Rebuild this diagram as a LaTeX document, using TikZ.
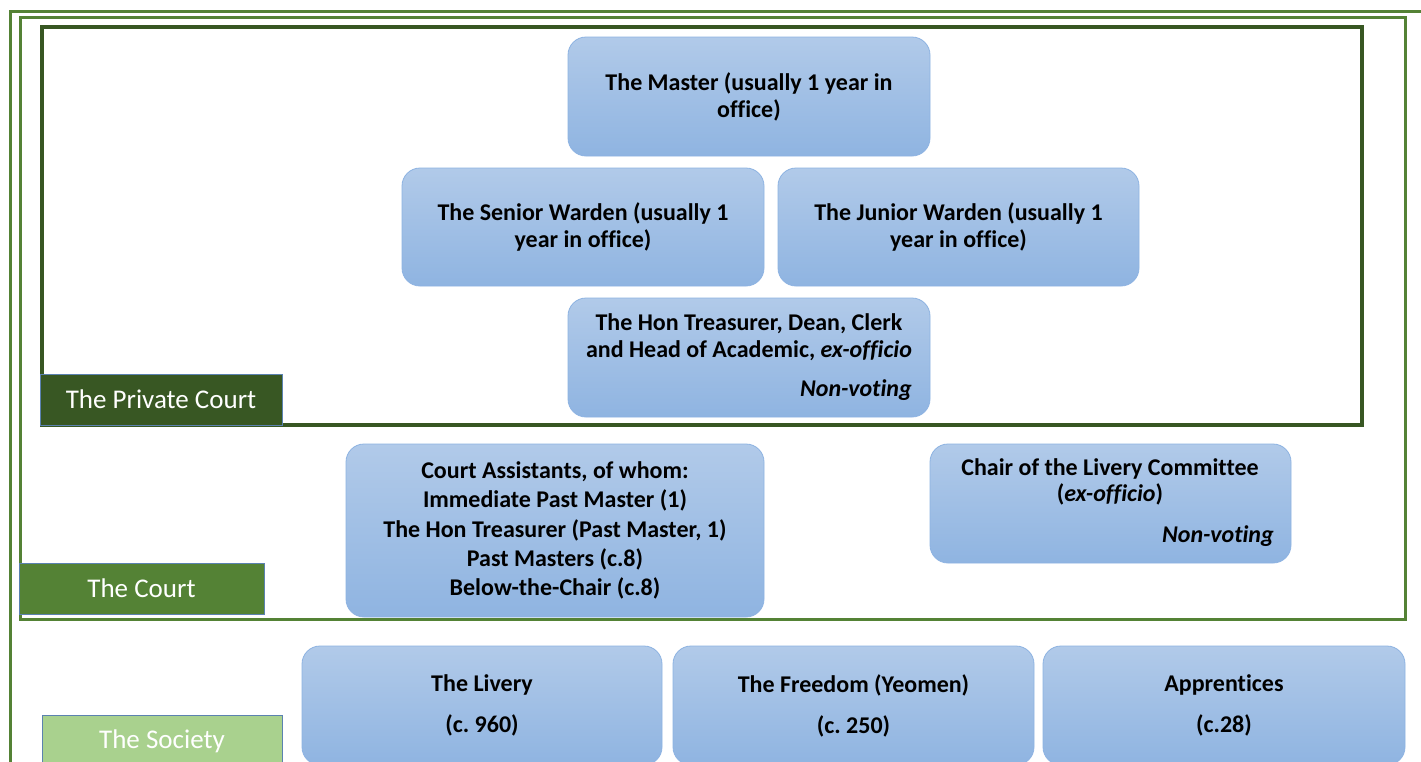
\documentclass[tikz,border=0pt]{standalone}
\usepackage{fontspec}
\setmainfont{Carlito}[Ligatures=NoCommon]
\frenchspacing
\definecolor{privgreen}{HTML}{385723}
\definecolor{courtgreen}{HTML}{548235}
\definecolor{socgreen}{HTML}{A9D18E}
\definecolor{boxtop}{HTML}{B1CAE9}
\definecolor{boxbot}{HTML}{8FB4E1}
\definecolor{boxline}{HTML}{8DB3E2}
\definecolor{labline}{HTML}{5B82B0}
\tikzset{
  bluebox/.style={draw=boxline, line width=0.8pt, rounded corners=18pt,
    top color=boxtop, bottom color=boxbot, inner sep=0pt, align=center,
    font=\bfseries\fontsize{24}{27}\selectfont},
  boxtext/.style={inner sep=0pt, align=center, font=\bfseries\fontsize{24}{27}\selectfont},
  nvtext/.style={inner sep=0pt, anchor=east, font=\bfseries\itshape\fontsize{24}{27}\selectfont},
  labelbox/.style={draw=labline, line width=0.6pt, text=white, inner sep=0pt,
    font=\fontsize{27}{30}\selectfont},
  frame/.style={line width=3pt}
}
\begin{document}
\begin{tikzpicture}[x=1pt,y=-1pt]
\useasboundingbox (0,0) rectangle (1421,761);
\clip (0,0) rectangle (1421,761);
\fill[white] (0,0) rectangle (1421,761);
% frames
\draw[frame, draw=courtgreen] (10,770) -- (10,11) -- (1430,11);
\draw[frame, draw=courtgreen] (20,17) rectangle (1405,619);
\draw[frame, draw=privgreen, line width=3.5pt] (42,27) rectangle (1362,425);
% level labels
\node[labelbox, fill=privgreen, minimum width=242pt, minimum height=51pt] (lpriv) at (161,399.5) {The Private Court};
\node[labelbox, fill=courtgreen, minimum width=245pt, minimum height=51pt] (lcourt) at (141.5,588.5) {The Court};
\node[labelbox, fill=socgreen, minimum width=240pt, minimum height=51pt] (lsoc) at (162,741) {The Society};
% private court boxes
\node[bluebox, minimum width=362pt, minimum height=119pt] (master) at (749,96.5)
  {The Master (usually 1 year in\\office)};
\node[bluebox, minimum width=362pt, minimum height=118pt] (senior) at (583,227)
  {The Senior Warden (usually 1\\year in office)};
\node[bluebox, minimum width=361pt, minimum height=118pt] (junior) at (958.5,227)
  {The Junior Warden (usually 1\\year in office)};
\node[bluebox, minimum width=362pt, minimum height=119pt] (treas) at (749,357.5) {};
\node[boxtext] (treastxt) at (749,337) {The Hon Treasurer, Dean, Clerk\\and Head of Academic, \textit{ex-officio}};
\node[nvtext] (treasnv) at (912,390) {Non-voting};
% court boxes
\node[bluebox, minimum width=418pt, minimum height=173pt, font=\bfseries\fontsize{24}{29.3}\selectfont] (assist) at (555,530.5)
  {Court Assistants, of whom:\\Immediate Past Master (1)\\The Hon Treasurer (Past Master, 1)\\Past Masters (c.8)\\Below-the-Chair (c.8)};
\node[bluebox, minimum width=361pt, minimum height=119pt] (chair) at (1110.5,503.5) {};
\node[boxtext, font=\bfseries\fontsize{24}{26}\selectfont] (chairtxt) at (1110,482) {Chair of the Livery Committee\\(\textit{ex-officio})};
\node[nvtext] (chairnv) at (1274,536) {Non-voting};
% society boxes
\node[bluebox, minimum width=360pt, minimum height=119pt, font=\bfseries\fontsize{24}{41}\selectfont] (livery) at (482,705.5)
  {The Livery\\(c. 960)};
\node[bluebox, minimum width=361pt, minimum height=119pt, font=\bfseries\fontsize{24}{41}\selectfont] (freedom) at (853.5,705.5)
  {The Freedom (Yeomen)\\(c. 250)};
\node[bluebox, minimum width=362pt, minimum height=119pt, font=\bfseries\fontsize{24}{41}\selectfont] (appr) at (1224,705.5)
  {Apprentices\\(c.28)};
\end{tikzpicture}
\end{document}
